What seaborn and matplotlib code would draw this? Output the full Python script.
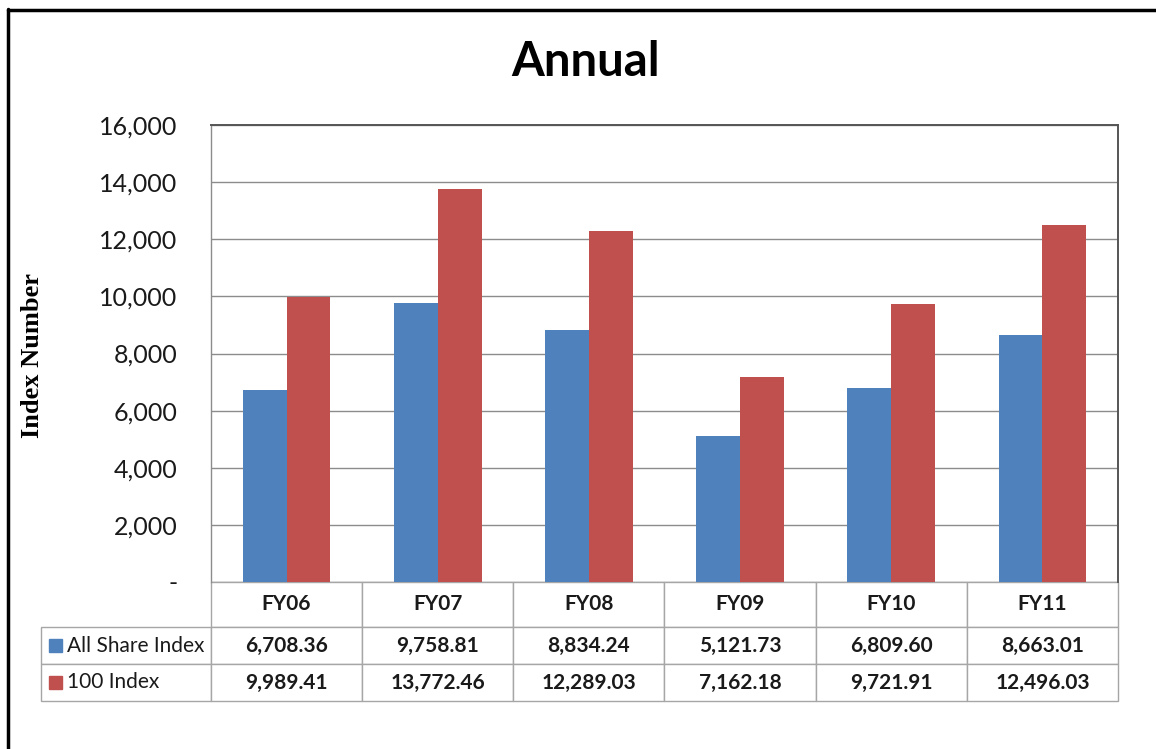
import pandas as pd
import matplotlib.pyplot as plt
import seaborn as sns
from matplotlib.lines import Line2D
from matplotlib.patches import Rectangle

# Data
years = ["FY06", "FY07", "FY08", "FY09", "FY10", "FY11"]
all_share = [6708.36, 9758.81, 8834.24, 5121.73, 6809.60, 8663.01]
index_100 = [9989.41, 13772.46, 12289.03, 7162.18, 9721.91, 12496.03]
series_names = ["All Share Index", "100 Index"]
y_ticks = [0, 2000, 4000, 6000, 8000, 10000, 12000, 14000, 16000]
colors = ["#4F81BD", "#C0504D"]

df = pd.DataFrame({
    "Year": years * 2,
    "Value": all_share + index_100,
    "Series": [series_names[0]] * len(years) + [series_names[1]] * len(years),
})

sns.set_theme(style="white")
plt.rcParams["font.family"] = ["Lato", "DejaVu Sans"]

W, H = 1156, 749
fig = plt.figure(figsize=(W / 100, H / 100), dpi=100)
fig.patch.set_facecolor("white")

# plot area in pixel coords: x 211..1118, y 125..582
px_l, px_r, px_t, px_b = 211, 1118, 125, 582
ax = fig.add_axes([px_l / W, 1 - px_b / H, (px_r - px_l) / W, (px_b - px_t) / H])

sns.barplot(data=df, x="Year", y="Value", hue="Series", palette=colors,
            width=0.58, gap=0, saturation=1, ax=ax, legend=False,
            edgecolor="none", linewidth=0)

ax.set_xlim(-0.5, len(years) - 0.5)
ax.set_ylim(0, 16000)
ax.set_yticks(y_ticks)
ax.set_yticklabels(["-"] + [f"{v:,}" for v in y_ticks[1:]])
ax.set_xticks([])
ax.set_xlabel("")
ax.set_ylabel("")
ax.tick_params(axis="y", length=0, pad=24, labelsize=18, labelcolor="#1a1a1a")
ax.yaxis.grid(True, color="#8c8c8c", linewidth=1)
ax.set_axisbelow(True)

for side in ["top", "right"]:
    ax.spines[side].set_color("#555555")
    ax.spines[side].set_linewidth(1.4)
ax.spines["left"].set_color("#8c8c8c")
ax.spines["left"].set_linewidth(1)
ax.spines["bottom"].set_visible(False)

# Data table under the plot
cell_text = [[""] + years,
             [""] + [f"{v:,.2f}" for v in all_share],
             [""] + [f"{v:,.2f}" for v in index_100]]
plot_w = px_r - px_l
plot_h = px_b - px_t
col_w = [170] + [plot_w / len(years)] * len(years)
tbl_left, tbl_bottom = 41, 701
tbl = ax.table(cellText=cell_text, colWidths=[w / plot_w for w in col_w],
               cellLoc="center",
               bbox=[(tbl_left - px_l) / plot_w, -(tbl_bottom - px_b) / plot_h,
                     (px_r - tbl_left) / plot_w, (tbl_bottom - px_b) / plot_h])
tbl.auto_set_font_size(False)
row_h = [45, 37, 37]
for (r, c), cell in tbl.get_celld().items():
    cell.set_height(row_h[r] / plot_h)
    cell.set_edgecolor("#a6a6a6")
    cell.set_linewidth(1)
    cell.get_text().set_fontsize(15)
    cell.get_text().set_fontweight("bold")
    cell.get_text().set_color("#1a1a1a")
tbl[0, 0].visible_edges = "open"

# row labels with colour keys
for i, (name, col) in enumerate(zip(series_names, colors)):
    yc = 645.5 + 37 * i
    fig.add_artist(Rectangle((49 / W, 1 - (yc + 6) / H), 13 / W, 13 / H,
                             transform=fig.transFigure, color=col))
    fig.text(67 / W, 1 - yc / H, name, ha="left", va="center",
             fontsize=15, color="#1a1a1a")

# title and y label
fig.text(586 / W, 1 - 62 / H, "Annual", ha="center", va="center",
         fontsize=34, fontweight="bold", color="black")
fig.text(33 / W, 1 - 356 / H, "Index Number", ha="center", va="center",
         rotation=90, fontsize=19, fontweight="bold",
         family="Liberation Serif", color="black")

# outer frame (left and top edges)
fig.add_artist(Line2D([8 / W, 8 / W], [0, 1 - 9 / H], transform=fig.transFigure,
                      color="black", linewidth=2.5))
fig.add_artist(Line2D([8 / W, 1], [1 - 10 / H, 1 - 10 / H], transform=fig.transFigure,
                      color="black", linewidth=2.5))

fig.savefig("out.png", dpi=100, facecolor="white")
